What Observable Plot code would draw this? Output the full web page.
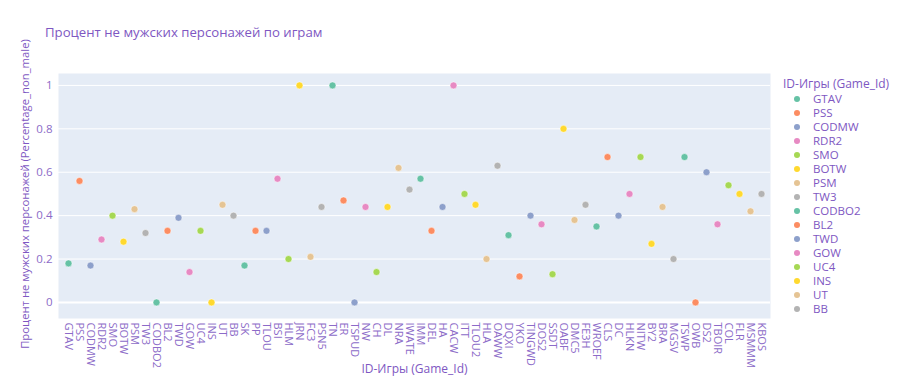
<!DOCTYPE html>
<html>
<head>
<meta charset="utf-8">
<script src="https://cdn.jsdelivr.net/npm/d3@7"></script>
<script src="https://cdn.jsdelivr.net/npm/@observablehq/plot@0.6"></script>
<style>
  html, body { margin: 0; padding: 0; background: #fff; }
  body { width: 900px; height: 386px; position: relative; overflow: hidden; font-family: "Open Sans", sans-serif; }
  #title { position: absolute; left: 45px; top: 23px; font-size: 13.2px; color: #7E57C2; white-space: nowrap; }
  #chart { position: absolute; left: 0; top: 0; }
  #legend { position: absolute; left: 783px; top: 76px; color: #7E57C2; }
  #legend .lt { font-size: 12px; height: 16px; line-height: 16px; white-space: nowrap; }
  #legend .item { height: 14px; line-height: 14px; display: flex; align-items: center; white-space: nowrap; font-size: 11.5px; }
  #legend .dot { width: 6px; height: 6px; border-radius: 50%; margin-left: 11px; margin-right: 13px; }
</style>
</head>
<body>
<div id="title">Процент не мужских персонажей по играм</div>
<div id="chart"></div>
<div id="legend"></div>
<script>
const gameIds = ["GTAV","PSS","CODMW","RDR2","SMO","BOTW","PSM","TW3","CODBO2","BL2","TWD","GOW","UC4","INS","UT","BB","SK","PP","TLOU","BSI","HLM","JRN","FC3","PSN5","TN","ER","TSPUD","NW","CH","DL","NRA","IWATE","IMM","DEL","HA","CACW","ITT","TLOU2","HLA","OAWW","DQXI","YKO","TINGWD","DOS2","SSDT","OABF","DMC5","FE3H","WROEF","CLS","DC","HLKN","NITW","BY2","BRA","MGSV","TSWP","OWB","DS2","TBOIR","COL","FLR","MSMMM","KBOS"];
const percentNonMale = [0.18,0.56,0.17,0.29,0.40,0.28,0.43,0.32,0.00,0.33,0.39,0.14,0.33,0.00,0.45,0.40,0.17,0.33,0.33,0.57,0.20,1.00,0.21,0.44,1.00,0.47,0.00,0.44,0.14,0.44,0.62,0.52,0.57,0.33,0.44,1.00,0.50,0.45,0.20,0.63,0.31,0.12,0.40,0.36,0.13,0.80,0.38,0.45,0.35,0.67,0.40,0.50,0.67,0.27,0.44,0.20,0.67,0.00,0.60,0.36,0.54,0.50,0.42,0.50];
const palette = ["#66c2a5","#fc8d62","#8da0cb","#e78ac3","#a6d854","#ffd92f","#e5c494","#b3b3b3"];
const yTicks = [0, 0.2, 0.4, 0.6, 0.8, 1];
const legendShown = gameIds.slice(0, 16);

const data = gameIds.map((g, i) => ({game: g, value: percentNonMale[i]}));
const colorRange = gameIds.map((g, i) => palette[i % palette.length]);
const txt = "#7E57C2";
const tickTxt = "#8C6BC8";

const chart = Plot.plot({
  width: 900,
  height: 386,
  marginLeft: 58,
  marginRight: 130,
  marginTop: 73,
  marginBottom: 68,
  style: {fontFamily: "Open Sans, sans-serif", fontSize: "11px", color: txt, background: "transparent"},
  x: {type: "point", domain: gameIds, padding: 0.5, label: null},
  y: {domain: [-0.074, 1.055], label: null},
  color: {domain: gameIds, range: colorRange},
  marks: [
    Plot.frame({fill: "#E5ECF6", stroke: null}),
    Plot.gridY(yTicks, {stroke: "white", strokeOpacity: 1, strokeWidth: 1}),
    Plot.ruleY([0], {stroke: "white", strokeWidth: 2}),
    Plot.axisY(yTicks, {tickSize: 0, tickPadding: 6, tickFormat: d => String(d), fill: tickTxt, fontSize: 11.5, label: null}),
    Plot.axisX({tickSize: 0, tickPadding: 4, tickRotate: 90, fill: tickTxt, fontSize: 11, label: null}),
    Plot.dot(data, {x: "game", y: "value", fill: "game", r: 3.5, stroke: "white", strokeWidth: 0.5, fillOpacity: 1}),
    Plot.text(["Процент не мужских персонажей (Percentage_non_male)"], {frameAnchor: "left", dx: -33, dy: -2, rotate: -90, fill: txt, fontSize: 11.3, textAnchor: "middle"}),
    Plot.text(["ID-Игры (Game_Id)"], {frameAnchor: "bottom", dy: 54, fill: txt, fontSize: 12})
  ]
});
document.getElementById("chart").appendChild(chart);

const legend = document.getElementById("legend");
const lt = document.createElement("div");
lt.className = "lt";
lt.textContent = "ID-Игры (Game_Id)";
legend.appendChild(lt);
legendShown.forEach((g, i) => {
  const it = document.createElement("div");
  it.className = "item";
  const d = document.createElement("span");
  d.className = "dot";
  d.style.background = colorRange[i];
  const t = document.createElement("span");
  t.textContent = g;
  it.appendChild(d); it.appendChild(t);
  legend.appendChild(it);
});
</script>
</body>
</html>
